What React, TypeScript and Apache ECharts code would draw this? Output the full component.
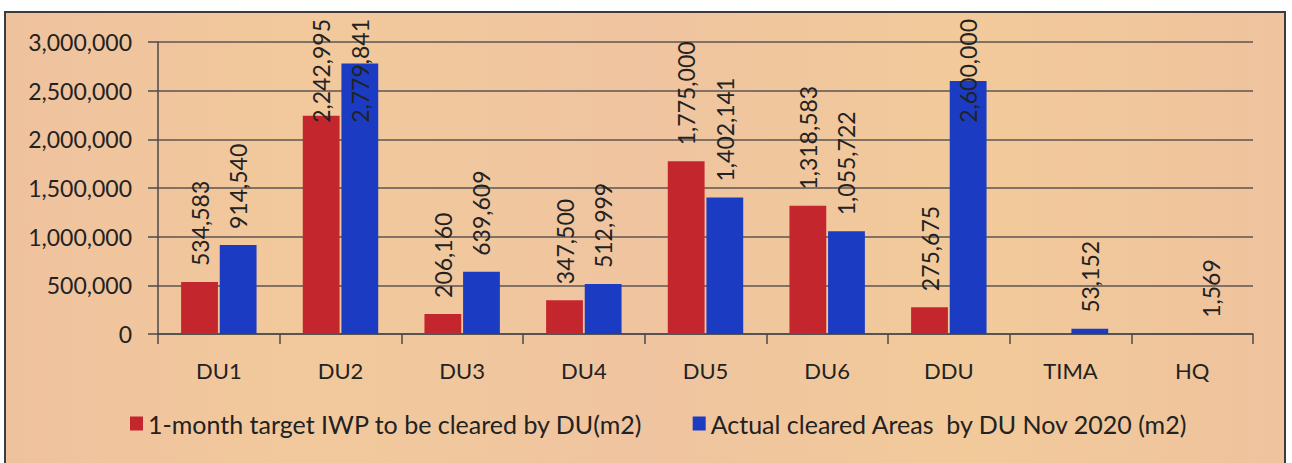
import React, { useEffect, useRef } from "react";
import * as echarts from "echarts";

const categories = ["DU1", "DU2", "DU3", "DU4", "DU5", "DU6", "DDU", "TIMA", "HQ"];
const targetValues: (number | null)[] = [534583, 2242995, 206160, 347500, 1775000, 1318583, 275675, null, null];
const actualValues: (number | null)[] = [914540, 2779841, 639609, 512999, 1402141, 1055722, 2600000, 53152, 1569];
const seriesNames = [
  "1-month target IWP to be cleared by DU(m2)",
  "Actual cleared Areas  by DU Nov 2020 (m2)",
];
const yMin = 0;
const yMax = 3000000;
const yInterval = 500000;

const FONT = "Lato";
const LABEL_SIZE = 23;
const TEXT = "#222222";
const fmt = (v: number) => v.toLocaleString("en-US");

export default function App() {
  const ref = useRef<HTMLDivElement>(null);
  useEffect(() => {
    if (!ref.current) return;
    const chart = echarts.init(ref.current, undefined, { renderer: "svg" });
    const label = {
      show: true,
      position: "top",
      rotate: 90,
      align: "left",
      verticalAlign: "middle",
      distance: 16,
      fontFamily: FONT,
      fontSize: LABEL_SIZE,
      color: TEXT,
      formatter: (p: any) => (p.value == null ? "" : fmt(p.value)),
    };
    const baseSeries = (name: string, data: any[], color: string) => ({
      name,
      type: "bar",
      data,
      barCategoryGap: "38%",
      barGap: "5%",
      itemStyle: { color },
      label,
    });
    chart.setOption({
      animation: false,
      backgroundColor: "#ffffff",
      graphic: [
        {
          type: "rect",
          z: -10,
          silent: true,
          shape: { x: 5, y: 12, width: 1280, height: 470 },
          style: {
            fill: {
              type: "linear",
              x: 0,
              y: 0,
              x2: 1,
              y2: 0,
              colorStops: [
                { offset: 0, color: "#efc29e" },
                { offset: 0.25, color: "#f2c99c" },
                { offset: 0.5, color: "#efc4a0" },
                { offset: 0.75, color: "#f2ca9a" },
                { offset: 1, color: "#efc39e" },
              ],
            },
            stroke: "#3c3c3c",
            lineWidth: 2,
          },
        },
      ],
      grid: { left: 158, right: 39, top: 42, bottom: 129, containLabel: false },
      legend: {
        left: 125,
        top: 406,
        itemWidth: 13,
        itemHeight: 14,
        itemGap: 50,
        icon: "rect",
        textStyle: { fontFamily: FONT, fontSize: 25, color: TEXT, padding: [0, 0, 0, 0] },
        data: seriesNames,
      },
      xAxis: {
        type: "category",
        data: categories,
        axisLine: { show: true, lineStyle: { color: "#4a4a4a", width: 1.5 } },
        axisTick: { show: true, length: 10, interval: 0, lineStyle: { color: "#4a4a4a", width: 1.5 } },
        axisLabel: { margin: 25, fontFamily: FONT, fontSize: 22, color: TEXT, interval: 0 },
        splitLine: { show: false },
      },
      yAxis: {
        type: "value",
        min: yMin,
        max: yMax,
        interval: yInterval,
        axisLine: { show: true, lineStyle: { color: "#4a4a4a", width: 1.5 } },
        axisTick: { show: true, length: 10, lineStyle: { color: "#4a4a4a", width: 1.5 } },
        axisLabel: {
          margin: 26,
          fontFamily: FONT,
          fontSize: 23,
          color: TEXT,
          formatter: (v: number) => fmt(v),
        },
        splitLine: { show: true, lineStyle: { color: "#5e5550", width: 1.5 } },
      },
      series: [
        baseSeries(seriesNames[0], targetValues, "#c4262d"),
        baseSeries(seriesNames[1], actualValues, "#1b3cc2"),
      ],
    });

    // Keep labels inside the chart frame (as the original does): clamp text top.
    const canvas = document.createElement("canvas");
    const ctx = canvas.getContext("2d")!;
    ctx.font = `${LABEL_SIZE}px ${FONT}`;
    const topLimit = 19;
    const clampData = (vals: (number | null)[]) =>
      vals.map((v) => {
        if (v == null) return v;
        const barTop = chart.convertToPixel({ yAxisIndex: 0 }, v) as number;
        const len = ctx.measureText(fmt(v)).width;
        const anchor = barTop - 16;
        if (anchor - len >= topLimit) return v;
        const newAnchor = topLimit + len;
        return { value: v, label: { position: ["50%", newAnchor - barTop] } };
      });
    chart.setOption({
      series: [{ data: clampData(targetValues) }, { data: clampData(actualValues) }],
    });
    return () => chart.dispose();
  }, []);
  return (
    <div
      ref={ref}
      style={{ position: "absolute", left: 0, top: 0, width: 1292, height: 463 }}
    />
  );
}
